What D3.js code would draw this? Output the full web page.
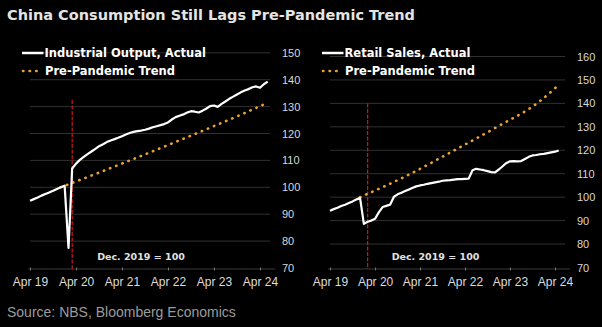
<!DOCTYPE html>
<html>
<head>
<meta charset="utf-8">
<script src="https://cdn.jsdelivr.net/npm/d3@7"></script>
<style>
  body { margin: 0; background: #000; }
  svg { display: block; }
</style>
</head>
<body>
<div id="chart"></div>
<script>
// monthly data, first value = Apr 2019
const START_MONTH = "2019-04";

// Industrial output, Dec 2019 = 100
const ioActual = [95.0, 95.6, 96.2, 96.9, 97.5, 98.1, 98.7, 99.4, 100.0, 100.6,
  77.5, 107.0, 108.8, 110.2, 111.3, 112.3, 113.3, 114.3, 115.3, 116.0,
  116.8, 117.4, 117.9, 118.4, 119.0, 119.6, 120.2, 120.6, 120.9, 121.1,
  121.4, 121.8, 122.3, 122.7, 123.1, 123.5, 124.1, 125.2, 126.1, 126.6,
  127.1, 127.8, 128.3, 128.1, 127.8, 128.5, 129.3, 130.2, 130.4, 129.9,
  131.0, 131.9, 132.9, 133.7, 134.5, 135.3, 136.0, 136.5, 137.2, 137.5,
  137.0, 138.3, 139.3];
const ioTrendDates = ["2019-12", "2020-12", "2021-12", "2022-12", "2023-12", "2024-05"];
const ioTrend = [100, 106.6, 113.4, 120.4, 127.6, 130.8];

// Retail sales, Dec 2019 = 100
const rsActual = [94.2, 94.9, 95.5, 96.2, 96.8, 97.5, 98.2, 99.0, 99.7,
  88.6, 89.5, 90.0, 90.8, 93.5, 95.8, 96.3, 96.8,
  100.2, 101.2, 101.9, 102.6, 103.3, 104.0, 104.6, 105.0, 105.3, 105.7,
  106.0, 106.3, 106.6, 107.0, 107.2, 107.3, 107.5, 107.7, 107.7, 107.8, 107.9,
  111.5, 112.1, 111.8, 111.5, 111.1, 110.7, 110.6, 111.8, 113.2, 114.5,
  115.3, 115.4, 115.3, 115.4, 116.3, 117.2, 117.8, 118.0, 118.3, 118.5,
  118.8, 119.1, 119.4, 119.9];
const rsTrendDates = ["2019-12", "2020-12", "2021-12", "2022-12", "2023-12", "2024-05"];
const rsTrend = [100, 108.8, 119.0, 129.5, 141.0, 147.9];

const xTickDates = ["2019-04", "2020-04", "2021-04", "2022-04", "2023-04", "2024-04"];
const ioTicks = [70, 80, 90, 100, 110, 120, 130, 140, 150];
const rsTicks = [70, 80, 90, 100, 110, 120, 130, 140, 150, 160];

const W = 602, H = 327;
const parseMonth = d3.timeParse("%Y-%m");
const fmt = d3.timeFormat("%b %y");
const WHITE = "#ffffff", ORANGE = "#eea22e", RED = "#e01c1c";

const svg = d3.select("#chart").append("svg")
    .attr("width", W)
    .attr("height", H)
    .style("background", "#000");

svg.append("text")
    .attr("x", 7).attr("y", 19.5)
    .attr("fill", "#e4e4e4")
    .style("font", "bold 14.5px 'DejaVu Sans'")
    .text("China Consumption Still Lags Pre-Pandemic Trend");

svg.append("text")
    .attr("x", 7).attr("y", 316.5)
    .attr("fill", "#9c9c9c")
    .style("font", "14px 'Liberation Sans'")
    .text("Source: NBS, Bloomberg Economics");

function drawPanel(p) {
    const start = parseMonth(START_MONTH);
    const actual = p.actual.map((v, i) => ({ date: d3.timeMonth.offset(start, i), v: v }));
    const trend = p.trend.map((v, i) => ({ date: parseMonth(p.trendDates[i]), v: v }));

    const x = d3.scaleTime()
        .domain([parseMonth(xTickDates[0]), parseMonth(xTickDates[xTickDates.length - 1])])
        .range([p.x0, p.x1]);
    const y = d3.scaleLinear()
        .domain([70, d3.max(p.ticks)])
        .range([p.yBottom, p.yTop]);

    const g = svg.append("g");

    // gridlines
    g.selectAll("line.grid")
        .data(p.ticks.slice(1))
        .join("line")
        .attr("x1", p.gridL).attr("x2", p.gridR)
        .attr("y1", d => y(d)).attr("y2", d => y(d))
        .attr("stroke", "#303030")
        .attr("stroke-width", 1);

    // x axis line
    g.append("line")
        .attr("x1", p.gridL - 2).attr("x2", p.gridR + 5)
        .attr("y1", 269).attr("y2", 269)
        .attr("stroke", "#3a3a3a");

    const xAxis = d3.axisBottom(x)
        .tickValues(xTickDates.map(parseMonth))
        .tickFormat(fmt)
        .tickSize(3)
        .tickPadding(7);
    const xg = g.append("g")
        .attr("transform", "translate(0,267.5)")
        .call(xAxis);
    xg.select(".domain").remove();
    xg.selectAll(".tick line").attr("stroke", "#777");
    xg.selectAll(".tick text")
        .attr("fill", "#dcdcdc")
        .style("font", "12px 'Liberation Sans'");

    const yAxis = d3.axisRight(y)
        .tickValues(p.ticks)
        .tickSize(0)
        .tickPadding(0);
    const yg = g.append("g")
        .attr("transform", `translate(${p.yLabelX},0)`)
        .call(yAxis);
    yg.select(".domain").remove();
    yg.selectAll(".tick text")
        .attr("fill", "#d8d8d8")
        .style("font", "11px 'Liberation Sans'");

    // pandemic marker
    g.append("line")
        .attr("x1", x(parseMonth(p.markDate))).attr("x2", x(parseMonth(p.markDate)))
        .attr("y1", y(p.markTop)).attr("y2", 269)
        .attr("stroke", RED)
        .attr("stroke-width", 1.1)
        .attr("stroke-dasharray", "4,1.5");

    const line = d3.line()
        .x(d => x(d.date))
        .y(d => y(d.v));

    g.append("path")
        .datum(trend)
        .attr("fill", "none")
        .attr("stroke", ORANGE)
        .attr("stroke-width", 2.6)
        .attr("stroke-linecap", "round")
        .attr("stroke-dasharray", "0.4,6.2")
        .attr("d", line.curve(d3.curveMonotoneX));

    g.append("path")
        .datum(actual)
        .attr("fill", "none")
        .attr("stroke", WHITE)
        .attr("stroke-width", 2.2)
        .attr("stroke-linejoin", "round")
        .attr("d", line.curve(d3.curveLinear));

    // legend
    const lx = p.x0 - 8;
    g.append("line")
        .attr("x1", lx).attr("x2", lx + 21.5)
        .attr("y1", 53).attr("y2", 53)
        .attr("stroke", WHITE).attr("stroke-width", 2.5);
    g.append("line")
        .attr("x1", lx + 1).attr("x2", lx + 20)
        .attr("y1", 71).attr("y2", 71)
        .attr("stroke", ORANGE).attr("stroke-width", 2.6)
        .attr("stroke-linecap", "round")
        .attr("stroke-dasharray", "0.4,6.2");
    g.append("text")
        .attr("x", lx + 22.5).attr("y", 57)
        .attr("fill", WHITE)
        .style("font", "bold 11.5px 'DejaVu Sans'")
        .text(p.name);
    g.append("text")
        .attr("x", lx + 23).attr("y", 75)
        .attr("fill", WHITE)
        .style("font", "bold 11.5px 'DejaVu Sans'")
        .text("Pre-Pandemic Trend");

    g.append("text")
        .attr("x", p.noteX).attr("y", 259.5)
        .attr("text-anchor", "middle")
        .attr("fill", "#e0e0e0")
        .style("font", "bold 9.5px 'DejaVu Sans'")
        .text("Dec. 2019 = 100");
}

drawPanel({
    name: "Industrial Output, Actual",
    actual: ioActual, trend: ioTrend, trendDates: ioTrendDates,
    ticks: ioTicks,
    x0: 30, x1: 260, gridL: 30, gridR: 270,
    yBottom: 268, yTop: 52.8, yLabelX: 282,
    markDate: "2020-03", markTop: 132.5,
    noteX: 141
});

drawPanel({
    name: "Retail Sales, Actual",
    actual: rsActual, trend: rsTrend, trendDates: rsTrendDates,
    ticks: rsTicks,
    x0: 330, x1: 555, gridL: 330, gridR: 565,
    yBottom: 267.5, yTop: 56.5, yLabelX: 577,
    markDate: "2020-02", markTop: 140,
    noteX: 435.5
});
</script>
</body>
</html>
